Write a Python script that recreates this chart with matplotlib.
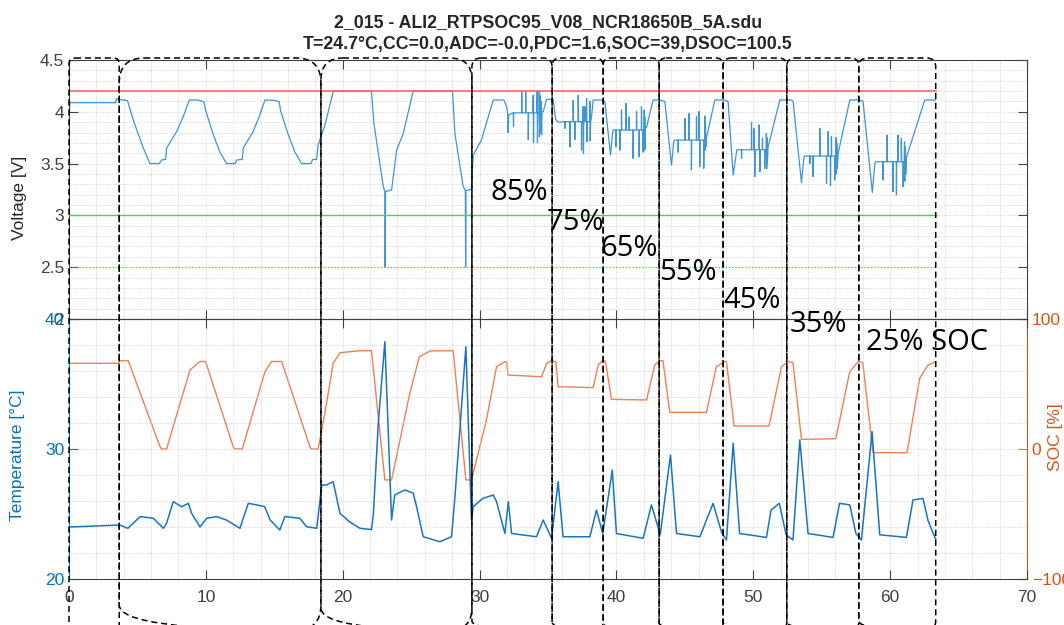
import matplotlib.pyplot as plt
from matplotlib.patches import FancyBboxPatch
from matplotlib.ticker import MultipleLocator, FuncFormatter

plt.rcParams['font.family'] = ['Liberation Sans', 'DejaVu Sans']

TITLE_1 = "2_015 - ALI2_RTPSOC95_V08_NCR18650B_5A.sdu"
TITLE_2 = "T=24.7°C,CC=0.0,ADC=-0.0,PDC=1.6,SOC=39,DSOC=100.5"

# ---- cell voltage [V] over time, one list per test block: (t, V) ----
VOLT_REST = [(0.0, 3.82), (0.05, 4.088), (3.40, 4.088), (3.45, 4.125), (3.68, 4.12)]
VOLT_CYCLES = [
    (4.28, 4.107), (4.41, 4.05), (4.70, 3.92), (4.94, 3.83), (5.43, 3.65), (5.92, 3.50),
    (6.60, 3.50), (6.77, 3.535), (7.06, 3.54), (7.13, 3.65), (7.87, 3.81), (8.35, 3.955),
    (8.79, 4.114), (9.45, 4.114), (9.86, 4.095), (9.98, 4.017), (10.54, 3.78), (11.03, 3.61),
    (11.52, 3.50), (12.13, 3.50), (12.25, 3.535), (12.66, 3.54), (12.73, 3.65), (13.46, 3.81),
    (13.90, 3.955), (14.32, 4.114), (15.05, 4.11), (15.36, 4.095), (15.46, 4.01), (16.02, 3.78),
    (16.51, 3.61), (17.00, 3.50), (17.68, 3.50), (17.80, 3.54), (18.09, 3.54), (18.20, 3.68),
    (18.70, 3.87),
]
VOLT_CHARGE = [
    (19.31, 4.20), (22.10, 4.20), (22.28, 3.89), (22.72, 3.50), (22.96, 3.28), (23.08, 3.23),
    (23.10, 2.50), (23.13, 3.23), (23.57, 3.245), (23.94, 3.63), (24.42, 3.79), (25.15, 4.20),
    (28.02, 4.20), (28.20, 3.79), (28.80, 3.28), (28.96, 3.24), (28.98, 2.50), (29.01, 3.24),
    (29.41, 3.25), (29.53, 3.58), (30.14, 3.73), (31.00, 4.114), (31.78, 4.114),
]
VOLT_85 = [
    (31.97, 4.05), (32.05, 3.99), (32.09, 3.80), (32.13, 3.97), (32.46, 3.99), (32.48, 3.86),
    (32.50, 3.99), (33.07, 3.99), (33.08, 4.20), (33.10, 3.99), (33.36, 3.99), (33.37, 4.20),
    (33.39, 3.99), (33.55, 3.99), (33.56, 3.73), (33.58, 3.99), (33.90, 3.99), (33.92, 4.16),
    (33.94, 3.70), (33.96, 3.99), (34.19, 3.99), (34.21, 4.20), (34.23, 3.70), (34.26, 3.99),
    (34.35, 3.99), (34.36, 4.20), (34.38, 3.76), (34.42, 4.16), (34.45, 3.80), (34.50, 4.10),
    (34.53, 3.78), (34.56, 4.00), (34.65, 4.00), (34.89, 4.12), (35.31, 4.12),
]
VOLT_75 = [
    (35.38, 4.12), (35.55, 3.93), (35.74, 3.90), (36.22, 3.905), (36.23, 3.84), (36.25, 3.905),
    (36.58, 3.905), (36.60, 3.66), (36.62, 3.905), (36.83, 3.905), (36.84, 4.11), (36.86, 3.905),
    (36.95, 3.905), (36.96, 3.73), (36.98, 3.905), (37.20, 3.905), (37.21, 4.16), (37.23, 3.905),
    (37.44, 3.905), (37.45, 3.63), (37.47, 3.905), (37.56, 3.905), (37.57, 4.05), (37.59, 3.60),
    (37.61, 3.905), (37.68, 3.905), (37.69, 4.05), (37.71, 3.905), (37.81, 3.905), (37.82, 4.13),
    (37.84, 3.71), (37.87, 3.905), (38.05, 3.905), (38.06, 4.10), (38.08, 3.72), (38.12, 3.905),
    (38.18, 3.95), (38.30, 4.114), (39.03, 4.114),
]
VOLT_65 = [
    (39.15, 4.10), (39.57, 3.583), (39.71, 3.79), (39.76, 3.824), (39.95, 3.824), (39.96, 3.66),
    (39.98, 3.824), (40.24, 3.824), (40.25, 3.63), (40.27, 3.824), (40.36, 3.824), (40.37, 4.018),
    (40.39, 3.824), (40.68, 3.824), (40.69, 4.082), (40.71, 3.824), (40.92, 3.824), (40.93, 3.95),
    (40.95, 3.824), (41.21, 3.824), (41.22, 3.55), (41.24, 3.824), (41.46, 3.824), (41.47, 4.002),
    (41.49, 3.824), (41.65, 3.824), (41.66, 3.566), (41.68, 3.824), (41.82, 3.824), (41.83, 4.05),
    (41.85, 3.824), (41.94, 3.824), (41.95, 3.61), (41.97, 3.824), (42.02, 3.824), (42.03, 4.018),
    (42.05, 3.63), (42.07, 3.95), (42.09, 3.64), (42.12, 3.85), (42.20, 3.85), (42.68, 4.114),
    (43.12, 4.114),
]
VOLT_55 = [
    (43.54, 4.10), (44.02, 3.486), (44.19, 3.71), (44.27, 3.727), (44.50, 3.727), (44.51, 3.61),
    (44.53, 3.727), (44.99, 3.727), (45.00, 3.937), (45.02, 3.727), (45.30, 3.727), (45.31, 3.985),
    (45.33, 3.727), (45.47, 3.727), (45.48, 3.438), (45.50, 3.727), (45.84, 3.727), (45.85, 3.953),
    (45.87, 3.727), (46.03, 3.727), (46.04, 4.002), (46.06, 3.727), (46.08, 3.727), (46.09, 3.47),
    (46.11, 3.727), (46.37, 3.727), (46.38, 3.454), (46.40, 3.727), (46.45, 3.727), (46.46, 3.96),
    (46.48, 3.63), (46.50, 3.90), (46.53, 3.66), (46.58, 3.75), (47.19, 4.114), (47.80, 4.114),
]
VOLT_45 = [
    (48.16, 4.10), (48.53, 3.39), (48.77, 3.61), (48.80, 3.634), (49.13, 3.634), (49.14, 3.55),
    (49.16, 3.634), (49.86, 3.634), (49.87, 3.895), (49.89, 3.634), (50.03, 3.634), (50.04, 3.84),
    (50.06, 3.634), (50.10, 3.634), (50.11, 3.374), (50.13, 3.634), (50.42, 3.634), (50.43, 3.873),
    (50.45, 3.634), (50.47, 3.634), (50.48, 3.422), (50.50, 3.634), (50.66, 3.634), (50.67, 3.744),
    (50.69, 3.634), (50.83, 3.634), (50.84, 3.454), (50.86, 3.634), (50.94, 3.634), (50.96, 3.79),
    (50.98, 3.45), (51.00, 3.75), (51.03, 3.50), (51.08, 3.66), (51.94, 4.114), (52.79, 4.114),
]
VOLT_35 = [
    (52.91, 4.10), (53.52, 3.316), (53.69, 3.55), (53.75, 3.573), (54.12, 3.573), (54.13, 3.50),
    (54.15, 3.573), (54.36, 3.573), (54.37, 3.374), (54.39, 3.573), (54.85, 3.573), (54.86, 3.84),
    (54.88, 3.573), (55.34, 3.573), (55.35, 3.309), (55.37, 3.573), (55.46, 3.573), (55.47, 3.81),
    (55.49, 3.573), (55.63, 3.573), (55.64, 3.287), (55.66, 3.573), (55.70, 3.573), (55.71, 3.76),
    (55.73, 3.573), (55.94, 3.573), (55.95, 3.341), (55.97, 3.573), (56.03, 3.573), (56.05, 3.75),
    (56.07, 3.40), (56.10, 3.70), (56.14, 3.45), (56.20, 3.60), (57.05, 4.114), (57.78, 4.114),
]
VOLT_25 = [
    (58.02, 4.10), (58.70, 3.22), (58.88, 3.50), (58.95, 3.518), (59.47, 3.518), (59.48, 3.341),
    (59.50, 3.518), (59.77, 3.518), (59.78, 3.776), (59.80, 3.518), (60.20, 3.518), (60.21, 3.229),
    (60.23, 3.518), (60.45, 3.518), (60.46, 3.197), (60.48, 3.518), (60.57, 3.518), (60.58, 3.776),
    (60.60, 3.518), (60.81, 3.518), (60.82, 3.744), (60.84, 3.518), (60.94, 3.518), (60.95, 3.277),
    (60.97, 3.518), (61.03, 3.518), (61.05, 3.71), (61.07, 3.33), (61.10, 3.66), (61.14, 3.40),
    (61.19, 3.56), (62.53, 4.114), (63.33, 4.114),
]

# ---- cell temperature [°C]: (t, T) ----
TEMP = [
    (0.0, 24.0), (3.72, 24.15), (4.30, 23.9), (5.20, 24.8), (6.16, 24.67), (6.90, 23.9),
    (7.13, 24.3), (7.62, 25.95), (8.23, 25.56), (8.72, 25.82), (8.96, 25.05), (9.57, 24.0),
    (10.06, 24.67), (10.79, 24.8), (11.50, 24.54), (12.49, 23.9), (13.10, 25.82), (13.71, 25.7),
    (14.30, 25.56), (14.70, 24.54), (15.40, 23.77), (15.78, 24.8), (16.87, 24.67), (17.36, 24.02),
    (18.10, 23.9), (18.47, 27.23), (18.80, 27.23), (19.30, 27.48), (19.80, 25.05), (20.50, 24.4),
    (21.26, 23.9), (22.10, 23.8), (22.24, 25.0), (22.60, 31.98), (23.08, 38.25), (23.57, 24.54),
    (23.80, 26.46), (24.54, 26.85), (25.15, 26.6), (25.40, 25.56), (25.88, 23.25), (27.10, 22.87),
    (27.95, 23.25), (28.20, 26.3), (29.00, 37.87), (29.41, 24.54), (29.53, 25.56), (30.24, 26.2),
    (31.00, 26.46), (31.24, 25.95), (31.85, 23.5), (32.10, 25.95), (32.34, 23.5), (34.16, 23.25),
    (34.65, 24.54), (35.26, 23.13), (35.74, 27.48), (36.10, 23.25), (38.06, 23.25), (38.54, 25.3),
    (39.00, 23.5), (39.70, 28.38), (40.00, 23.5), (41.95, 23.13), (42.56, 25.7), (43.20, 23.4),
    (43.95, 29.54), (44.39, 23.5), (46.10, 23.25), (47.06, 25.82), (47.68, 23.6), (48.04, 23.0),
    (48.53, 30.44), (49.00, 23.5), (50.96, 23.2), (51.30, 25.3), (51.90, 25.82), (52.40, 23.4),
    (52.90, 23.0), (53.40, 30.7), (54.00, 23.5), (55.83, 23.2), (56.30, 25.82), (57.05, 25.7),
    (57.50, 23.5), (57.90, 23.0), (58.68, 31.33), (59.24, 23.4), (61.19, 23.2), (61.67, 26.08),
    (62.40, 26.2), (62.77, 24.5), (63.33, 23.05),
]

# ---- state of charge [%]: (t, SOC) ----
SOC = [
    (0.0, 65.9), (3.60, 65.9), (3.72, 67.9), (4.33, 67.9), (6.65, 1.8), (6.77, 0.0), (7.13, 0.0),
    (8.84, 60.8), (9.57, 67.3), (9.98, 67.3), (12.00, 1.8), (12.10, 0.0), (12.66, 0.0),
    (14.32, 59.5), (14.80, 67.3), (15.54, 67.3), (17.60, 1.8), (17.70, 0.0), (18.20, 0.0),
    (18.70, 27.5), (19.30, 65.9), (19.80, 74.1), (21.26, 75.6), (22.10, 75.6), (23.08, -23.8),
    (23.57, -23.8), (24.90, 42.8), (25.60, 71.0), (26.40, 75.4), (28.07, 75.6), (29.00, -23.8),
    (29.41, -23.8), (30.50, 22.3), (31.24, 63.3), (31.85, 67.2), (31.99, 66.5), (32.07, 56.9),
    (34.53, 55.6), (34.90, 65.9), (35.26, 67.9), (35.57, 67.2), (35.74, 47.9), (38.30, 47.2),
    (38.67, 64.6), (39.03, 68.5), (39.20, 67.2), (39.64, 38.2), (42.20, 37.7), (42.80, 64.6),
    (43.15, 67.9), (43.40, 67.9), (43.90, 28.2), (46.58, 28.2), (47.30, 63.3), (47.90, 67.2),
    (48.04, 67.2), (48.60, 17.7), (51.15, 17.7), (52.06, 63.3), (52.55, 67.2), (52.90, 66.5),
    (53.52, 7.4), (56.03, 7.9), (57.05, 59.5), (57.66, 67.2), (58.00, 66.5), (58.75, -2.8),
    (61.23, -2.8), (62.16, 54.4), (62.77, 64.6), (63.33, 67.2),
]

# tester voltage limits [V] and end of the record [h]
V_MAX, V_MIN, V_CUTOFF = 4.2, 3.0, 2.5
T_END = 63.33

# test blocks (start/end times) marked by the dashed boxes, and their SOC labels
BLOCK_EDGES = [0.0, 3.67, 18.41, 29.44, 35.3, 39.03, 43.12, 47.79, 52.45, 57.71, 63.33]
SOC_LABELS = ["85%", "75%", "65%", "55%", "45%", "35%", "25% SOC"]

# layout for the hand-drawn overlay (figure pixels from top-left)
BOX_ROUND = [6, 25, 22, 9, 8, 7, 7, 8, 8, 9]
LABEL_POS = [(491, 193), (547, 222), (600, 248), (659, 273), (723, 300), (790, 325), (866, 342)]

C_DARK = '#404040'
C_BLUE = '#0072BD'
C_ORANGE = '#D95319'


def style_axes(ax):
    ax.tick_params(which='major', direction='in', length=6.5, width=0.8, top=True,
                   labelsize=12.5, color=C_DARK, labelcolor=C_DARK)
    ax.tick_params(which='minor', length=0)
    ax.xaxis.set_minor_locator(MultipleLocator(2))
    ax.grid(which='both', ls=':', lw=0.6, color='#c8c8c8')
    for s in ax.spines.values():
        s.set_color(C_DARK)
        s.set_linewidth(0.8)


fig = plt.figure(figsize=(10.64, 6.25), dpi=100)
ax_v = fig.add_axes([69 / 1064, 306 / 625, 958 / 1064, 259 / 625])
ax_t = fig.add_axes([69 / 1064, 46 / 625, 958 / 1064, 260 / 625])
ax_s = ax_t.twinx()

# --- voltage panel ---
volt = VOLT_REST + VOLT_CYCLES + VOLT_CHARGE + VOLT_85 + VOLT_75 + VOLT_65 + VOLT_55 + VOLT_45 + VOLT_35 + VOLT_25
vt, vv = zip(*volt)
ax_v.plot(vt, vv, color='#3f94d6', lw=0.9, zorder=2)
ax_v.plot([0, T_END], [V_MAX, V_MAX], color='#ff5a5a', lw=1.1, zorder=3)
ax_v.plot([0, T_END], [V_MIN, V_MIN], color='#3ddc3d', lw=1.0, zorder=3)
ax_v.plot([0, T_END], [V_CUTOFF, V_CUTOFF], color='#3ddc3d', lw=0.9, ls=':', zorder=3)
ax_v.set_xlim(0, 70)
ax_v.set_ylim(2, 4.5)
ax_v.set_xticks(range(0, 71, 10))
ax_v.set_yticks([2, 2.5, 3, 3.5, 4, 4.5])
ax_v.yaxis.set_major_formatter(FuncFormatter(lambda y, _: f"{y:g}"))
ax_v.yaxis.set_minor_locator(MultipleLocator(0.1))
style_axes(ax_v)
ax_v.tick_params(which='major', right=True, labelbottom=False)
ax_v.set_ylabel("Voltage [V]", fontsize=12.5, color='#262626')
ax_v.yaxis.set_label_coords(-0.044, 0.469)

# --- temperature / SOC panel ---
tt, tv = zip(*TEMP)
st, sv = zip(*SOC)
ax_t.plot(tt, tv, color='#1a74c4', lw=1.1, zorder=3)
ax_s.plot(st, sv, color='#f07f55', lw=1.0)
ax_t.set_zorder(ax_s.get_zorder() + 1)
ax_t.patch.set_visible(False)
ax_t.set_xlim(0, 70)
ax_t.set_ylim(20, 40)
ax_t.set_xticks(range(0, 71, 10))
ax_t.set_yticks([20, 30, 40])
ax_t.yaxis.set_minor_locator(MultipleLocator(2))
style_axes(ax_t)
ax_t.tick_params(axis='x', which='major', pad=8)
ax_t.tick_params(axis='y', which='major', colors=C_BLUE, labelcolor=C_BLUE)
ax_t.spines['left'].set_color(C_BLUE)
ax_t.spines['right'].set_visible(False)
ax_t.set_ylabel("Temperature [°C]", fontsize=12.5, color=C_BLUE)
ax_t.yaxis.set_label_coords(-0.046, 0.475)

ax_s.set_ylim(-100, 100)
ax_s.set_yticks([-100, 0, 100])
ax_s.tick_params(axis='y', direction='in', length=6.5, width=0.8, labelsize=12.5,
                 colors=C_ORANGE, labelcolor=C_ORANGE)
for side in ('left', 'top', 'bottom'):
    ax_s.spines[side].set_visible(False)
ax_s.spines['right'].set_color(C_ORANGE)
ax_s.spines['right'].set_linewidth(0.8)
ax_s.set_ylabel("SOC [%]", fontsize=12.5, color=C_ORANGE)
ax_s.yaxis.set_label_coords(1.022, 0.546)

fig.text(548 / 1064, 1 - 23 / 625, TITLE_1, ha='center', va='center', fontsize=12.8,
         fontweight='bold', color='#262626')
fig.text(548 / 1064, 1 - 44 / 625, TITLE_2, ha='center', va='center', fontsize=12.8,
         fontweight='bold', color='#262626')

# --- hand-drawn overlay: dashed test-block boxes and SOC labels ---
ov = fig.add_axes([0, 0, 1, 1], zorder=20)
ov.set_xlim(0, 1064)
ov.set_ylim(625, 0)
ov.axis('off')
edges_px = [ax_t.transData.transform((b, 20))[0] for b in BLOCK_EDGES]
for x0, x1, r in zip(edges_px[:-1], edges_px[1:], BOX_ROUND):
    ov.add_patch(FancyBboxPatch((x0, 58), x1 - x0, 572, boxstyle=f"round,pad=0,rounding_size={r}",
                                fill=False, ec='black', lw=1.1, ls=(0, (4, 2.5))))
for text, (x, y) in zip(SOC_LABELS, LABEL_POS):
    ov.text(x, y, text, ha='left', va='center', fontsize=21, color='black',
            family=['Open Sans', 'DejaVu Sans'])

fig.savefig("out.png", dpi=100)
